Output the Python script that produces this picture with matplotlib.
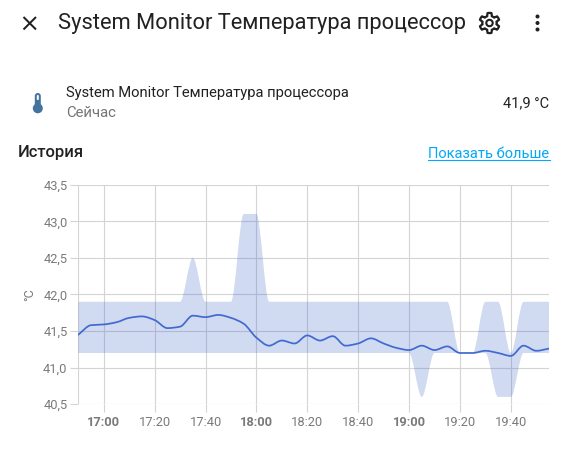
import numpy as np
import matplotlib
matplotlib.use("Agg")
import matplotlib.pyplot as plt
from matplotlib.path import Path
from matplotlib.patches import PathPatch, Circle, FancyBboxPatch, Polygon

plt.rcParams['font.family'] = ['Roboto', 'DejaVu Sans']

minutes = list(range(-10, 176, 5))  # minutes after 17:00, 5-minute buckets
mean_vals = [41.45, 41.58, 41.59, 41.62, 41.68, 41.70, 41.65, 41.54, 41.56, 41.71, 41.69, 41.72,
             41.68, 41.60, 41.41, 41.30, 41.37, 41.33, 41.44, 41.37, 41.43, 41.30, 41.33, 41.40,
             41.33, 41.27, 41.24, 41.30, 41.24, 41.29, 41.20, 41.20, 41.23, 41.20, 41.16, 41.30,
             41.23, 41.26]
upper_vals = [41.9] * 9 + [42.5] + [41.9] * 3 + [43.1, 43.1] + [41.9] * 15 + [41.2, 41.2, 41.9, 41.9, 41.2, 41.9, 41.9, 41.9]
lower_vals = [41.2] * 27 + [40.6] + [41.2] * 5 + [40.6, 40.6] + [41.2] * 3
x_ticks = [0, 20, 40, 60, 80, 100, 120, 140, 160]
x_labels = ['17:00', '17:20', '17:40', '18:00', '18:20', '18:40', '19:00', '19:20', '19:40']
bold_labels = {'17:00', '18:00', '19:00'}
y_ticks = [40.5, 41.0, 41.5, 42.0, 42.5, 43.0, 43.5]
y_labels = ['40,5', '41,0', '41,5', '42,0', '42,5', '43,0', '43,5']

W, H = 568, 450
fig = plt.figure(figsize=(W / 100, H / 100), dpi=100)

ui = fig.add_axes([0, 0, 1, 1])
ui.set_xlim(0, W)
ui.set_ylim(H, 0)
ui.axis('off')


def slopes(x, y):
    x, y = np.asarray(x, float), np.asarray(y, float)
    d = np.diff(y) / np.diff(x)
    m = np.zeros_like(y)
    m[0], m[-1] = d[0], d[-1]
    for i in range(1, len(y) - 1):
        m[i] = 0 if d[i - 1] * d[i] <= 0 else 2 * d[i - 1] * d[i] / (d[i - 1] + d[i])
    return m


def bezier_segments(x, y):
    """Monotone smoothing expressed as cubic Bezier control points."""
    m = slopes(x, y)
    verts = []
    for i in range(len(x) - 1):
        h = (x[i + 1] - x[i]) / 3
        verts += [(x[i] + h, y[i] + m[i] * h), (x[i + 1] - h, y[i + 1] - m[i + 1] * h), (x[i + 1], y[i + 1])]
    return verts


ax = fig.add_axes([78.3 / W, 1 - 404.2 / H, (549.0 - 78.3) / W, (404.2 - 184.7) / H])
ax.set_xlim(minutes[0], minutes[-1])
ax.set_ylim(40.5, 43.5)
for s in ax.spines.values():
    s.set_visible(False)
GRID = '#d4d4d4'
ax.grid(True, color=GRID, lw=0.8)
ax.set_axisbelow(True)
ax.tick_params(axis='both', length=5.8, width=0.8, color=GRID, labelcolor='#7a7a7a', labelsize=9.3, pad=2)
ax.set_xticks(x_ticks, x_labels)
ax.set_yticks(y_ticks, y_labels)
ax.tick_params(axis='x', pad=2.5)
for t in ax.get_xticklabels():
    if t.get_text() in bold_labels:
        t.set_fontweight('bold')
ax.axvline(minutes[0], color=GRID, lw=0.8, zorder=0.5)
ax.set_ylabel('°C', fontsize=9, color='#7a7a7a', labelpad=5)

# band
up = bezier_segments(minutes, upper_vals)
lo = bezier_segments(minutes[::-1], lower_vals[::-1])
verts = [(minutes[0], upper_vals[0])] + up + [(minutes[-1], lower_vals[-1])] + lo + [(minutes[0], upper_vals[0])]
codes = [Path.MOVETO] + [Path.CURVE4] * len(up) + [Path.LINETO] + [Path.CURVE4] * len(lo) + [Path.LINETO]
ax.add_patch(PathPatch(Path(verts, codes), fc='#3f67c8', alpha=0.245, lw=0, zorder=2))

# mean line
mv = [(minutes[0], mean_vals[0])] + bezier_segments(minutes, mean_vals)
ax.add_patch(PathPatch(Path(mv, [Path.MOVETO] + [Path.CURVE4] * (len(mv) - 1)), fc='none',
                       ec='#4169d1', lw=1.25, zorder=3, capstyle='round'))

# header: close icon
for a, b in [((23.5, 17), (36, 29.5)), ((36, 17), (23.5, 29.5))]:
    ui.plot([a[0], b[0]], [a[1], b[1]], color='#212121', lw=1.45, solid_capstyle='butt')

ui.text(58, 24, 'System Monitor Температура процессор', fontsize=15.75, color='#212121', va='center', ha='left')

# gear icon
cx, cy = 489.5, 23
angles = np.linspace(0, 2 * np.pi, 96, endpoint=False)
radii = 8.6 + 1.5 * np.clip(3.0 * np.cos(6 * angles), -1, 1)
gear = [(cx + r * np.sin(t), cy + r * np.cos(t)) for t, r in zip(angles, radii)]
ui.add_patch(Polygon(gear, closed=True, fc='white', ec='#212121', lw=1.6, joinstyle='round'))
ui.add_patch(Circle((cx, cy), 3.2, fc='white', ec='#212121', lw=1.5))

# more icon
for yy in (16.5, 23, 29.5):
    ui.add_patch(Circle((537.5, yy), 2.0, fc='#212121', ec='none'))

# thermometer icon
ui.add_patch(FancyBboxPatch((34.8, 93), 6, 14, boxstyle='round,pad=0,rounding_size=3', fc='#44739e', ec='none'))
ui.add_patch(Circle((37.8, 108.3), 5.0, fc='#44739e', ec='none'))
ui.add_patch(FancyBboxPatch((36.8, 95), 2, 5, boxstyle='round,pad=0,rounding_size=1', fc='white', ec='none'))

ui.text(66, 92.8, 'System Monitor Температура процессора', fontsize=10.62, color='#212121', va='center', ha='left')
ui.text(66, 113, 'Сейчас', fontsize=10.7, color='#757575', va='center', ha='left')
ui.text(549.5, 103.3, '41,9 °C', fontsize=10.55, color='#212121', va='center', ha='right')
ui.text(17.5, 153, 'История', fontsize=12, color='#212121', fontweight='medium', va='center', ha='left')
ui.text(549.5, 154, 'Показать больше', fontsize=10.55, color='#03a9f4', va='center', ha='right')
ui.plot([428, 549.5], [159.5, 159.5], color='#03a9f4', lw=0.8)

fig.savefig('out.png', dpi=100)
